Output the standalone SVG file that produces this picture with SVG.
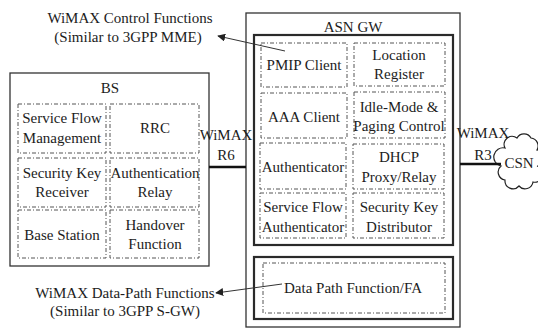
<svg xmlns="http://www.w3.org/2000/svg" width="538" height="329" viewBox="0 0 538 329" font-family="Liberation Serif, DejaVu Serif, serif">
  <defs>
    <marker id="arrow" viewBox="0 0 10 10" refX="9" refY="5" markerWidth="8" markerHeight="8" markerUnits="userSpaceOnUse" orient="auto">
      <path d="M0,0 L10,5 L0,10 Z" fill="#222"/>
    </marker>
    <style>
      text { font-size: 15px; fill: #1c1c1c; text-anchor: middle; }
      .outer { fill: #fff; stroke: #333; stroke-width: 1.3; }
      .group { fill: none; stroke: #2a2a2a; stroke-width: 2.2; }
      .fn { fill: none; stroke: #555; stroke-width: 1; stroke-dasharray: 4 2 1 2; }
      .link { stroke: #111; stroke-width: 2.6; fill: none; }
      .pointer { stroke: #333; stroke-width: 1; fill: none; marker-end: url(#arrow); }
    </style>
  </defs>
  <rect width="538" height="329" fill="#fff"/>

  <!-- Base station -->
  <g id="bs">
    <rect class="outer" x="10" y="73" width="199" height="193"/>
    <text x="110" y="93">BS</text>
    <g id="bs-sfm">
      <rect class="fn" x="18" y="104" width="88" height="49"/>
      <text x="62" y="123">Service Flow</text>
      <text x="62" y="143">Management</text>
    </g>
    <g id="bs-rrc">
      <rect class="fn" x="110" y="104" width="89" height="49"/>
      <text x="155" y="133">RRC</text>
    </g>
    <g id="bs-skr">
      <rect class="fn" x="18" y="158" width="88" height="49"/>
      <text x="62" y="178">Security Key</text>
      <text x="62" y="197">Receiver</text>
    </g>
    <g id="bs-auth">
      <rect class="fn" x="110" y="158" width="89" height="49"/>
      <text x="155" y="178">Authentication</text>
      <text x="155" y="197">Relay</text>
    </g>
    <g id="bs-base">
      <rect class="fn" x="18" y="210" width="88" height="48"/>
      <text x="62" y="240">Base Station</text>
    </g>
    <g id="bs-ho">
      <rect class="fn" x="110" y="210" width="89" height="48"/>
      <text x="155" y="230">Handover</text>
      <text x="155" y="249">Function</text>
    </g>
  </g>

  <!-- ASN gateway -->
  <g id="asn-gw">
    <rect class="outer" x="246" y="13" width="214" height="314"/>
    <text x="353" y="32">ASN GW</text>
    <rect class="group" x="254" y="35" width="199" height="210"/>
    <g id="asn-pmip">
      <rect class="fn" x="261" y="43" width="86" height="44"/>
      <text x="304" y="70">PMIP Client</text>
    </g>
    <g id="asn-loc">
      <rect class="fn" x="354" y="43" width="91" height="43"/>
      <text x="399" y="60">Location</text>
      <text x="399" y="79">Register</text>
    </g>
    <g id="asn-aaa">
      <rect class="fn" x="261" y="93" width="86" height="45"/>
      <text x="304" y="122">AAA Client</text>
    </g>
    <g id="asn-idle">
      <rect class="fn" x="354" y="92" width="91" height="46"/>
      <text x="399" y="112">Idle-Mode &amp;</text>
      <text x="399" y="131">Paging Control</text>
    </g>
    <g id="asn-authr">
      <rect class="fn" x="260" y="143" width="86" height="46"/>
      <text x="303" y="172">Authenticator</text>
    </g>
    <g id="asn-dhcp">
      <rect class="fn" x="353" y="144" width="91" height="45"/>
      <text x="399" y="162">DHCP</text>
      <text x="399" y="182">Proxy/Relay</text>
    </g>
    <g id="asn-sfa">
      <rect class="fn" x="260" y="193" width="86" height="45"/>
      <text x="303" y="212">Service Flow</text>
      <text x="303" y="232">Authenticator</text>
    </g>
    <g id="asn-skd">
      <rect class="fn" x="353" y="193" width="91" height="45"/>
      <text x="399" y="212">Security Key</text>
      <text x="399" y="232">Distributor</text>
    </g>
    <g id="asn-dp">
      <rect class="group" x="254" y="257" width="199" height="62"/>
      <rect class="fn" x="263" y="263" width="182" height="50"/>
      <text x="353" y="293">Data Path Function/FA</text>
    </g>
  </g>

  <!-- Connectivity service network -->
  <g id="csn">
    <path d="M505,148 a8,8 0 0 1 12,-10 a8,8 0 0 1 14,0 a8,8 0 0 1 6,12 a8,8 0 0 1 0,16 a8,8 0 0 1 -4,16 a8,8 0 0 1 -14,4 a8,8 0 0 1 -14,-6 a8,8 0 0 1 -4,-14 a9,9 0 0 1 4,-18 Z" fill="#fff" stroke="#222" stroke-width="1.2"/>
    <text x="519" y="168">CSN</text>
  </g>

  <!-- Reference points and annotations -->
  <g id="connectors">
    <line class="link" x1="209" y1="167" x2="246" y2="167"/>
    <text x="226" y="140">WiMAX</text>
    <text x="226" y="160">R6</text>
    <line class="link" x1="460" y1="164" x2="501" y2="164"/>
    <text x="483" y="138">WiMAX</text>
    <text x="483" y="160">R3</text>
    <line class="pointer" x1="285" y1="51" x2="218" y2="36"/>
    <line class="pointer" x1="282" y1="284" x2="216" y2="293"/>
  </g>

  <g id="labels">
    <text x="130" y="23">WiMAX Control Functions</text>
    <text x="128" y="42">(Similar to 3GPP MME)</text>
    <text x="125" y="298">WiMAX Data-Path Functions</text>
    <text x="125" y="316">(Similar to 3GPP S-GW)</text>
  </g>
</svg>
